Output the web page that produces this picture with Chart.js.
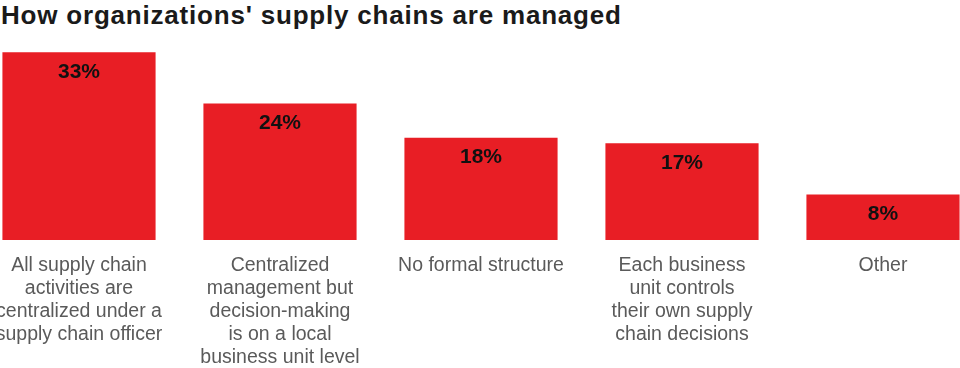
<!DOCTYPE html>
<html>
<head>
<meta charset="utf-8">
<script src="https://cdn.jsdelivr.net/npm/chart.js@4.4.1/dist/chart.umd.min.js"></script>
<style>
  html, body { margin: 0; padding: 0; background: #fff; }
  #wrap { position: relative; width: 960px; height: 368px; overflow: hidden; }
  #title {
    position: absolute; left: 1px; top: -1px; margin: 0;
    font: bold 26px "Liberation Sans", Arial, sans-serif;
    color: #1a1a1a; letter-spacing: 0.8px; white-space: nowrap; line-height: 32px;
  }
  #chart { position: absolute; left: 0; top: 0; }
</style>
</head>
<body>
<div id="wrap">
  <h1 id="title">How organizations' supply chains are managed</h1>
  <canvas id="chart" width="960" height="368"></canvas>
</div>
<script>
const categories = [
  ["All supply chain", "activities are", "centralized under a", "supply chain officer"],
  ["Centralized", "management but", "decision-making", "is on a local", "business unit level"],
  "No formal structure",
  ["Each business", "unit controls", "their own supply", "chain decisions"],
  "Other",
];
const shares = [33, 24, 18, 17, 8];
const shareLabels = ["33%", "24%", "18%", "17%", "8%"];

// bar value labels, drawn just under the top of each bar
const valueLabels = {
  id: "valueLabels",
  afterDatasetsDraw(chart) {
    const ctx = chart.ctx;
    const meta = chart.getDatasetMeta(0);
    ctx.save();
    ctx.font = "bold 21px 'Liberation Sans', Arial, sans-serif";
    ctx.fillStyle = "#111";
    ctx.textAlign = "center";
    ctx.textBaseline = "middle";
    meta.data.forEach((bar, i) => {
      ctx.fillText(shareLabels[i], bar.x, bar.y + 20);
    });
    ctx.restore();
  },
};

new Chart(document.getElementById("chart"), {
  type: "bar",
  data: {
    labels: categories,
    datasets: [{
      data: shares,
      backgroundColor: "#e81e25",
      borderWidth: 0,
      categoryPercentage: 1,
      barPercentage: 0.762,
      clip: false,
    }],
  },
  options: {
    responsive: false,
    animation: false,
    layout: { padding: { left: 79, right: 77, top: 41, bottom: 0 } },
    plugins: { legend: { display: false }, tooltip: { enabled: false } },
    scales: {
      x: {
        offset: false,
        grid: { display: false, drawTicks: false },
        border: { display: false },
        ticks: {
          autoSkip: false,
          maxRotation: 0,
          padding: 14,
          color: "#5a5a5a",
          font: { family: "'Liberation Sans', Arial, sans-serif", size: 19.5, lineHeight: 1.18 },
        },
        afterFit: (s) => { s.height = 128; s.paddingLeft = 0; s.paddingRight = 0; },
      },
      y: {
        display: false,
        min: 0,
        max: 35,
      },
    },
  },
  plugins: [valueLabels],
});
</script>
</body>
</html>
